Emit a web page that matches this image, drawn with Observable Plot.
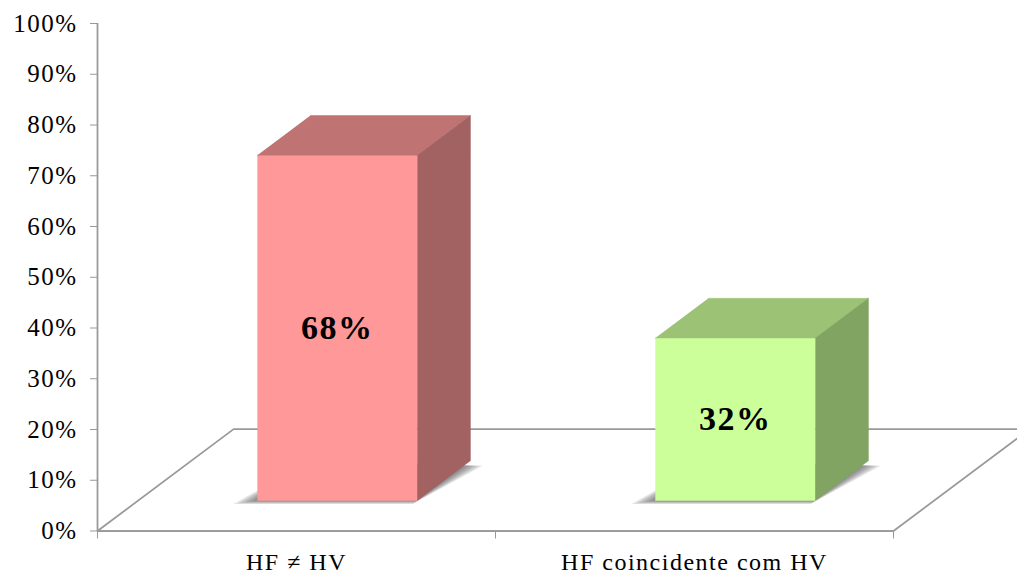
<!DOCTYPE html>
<html>
<head>
<meta charset="utf-8">
<script src="https://cdn.jsdelivr.net/npm/d3@7"></script>
<script src="https://cdn.jsdelivr.net/npm/@observablehq/plot@0.6"></script>
<style>
  html, body { margin: 0; padding: 0; background: #fff; overflow: hidden; }
  #chart svg { overflow: hidden; font-family: "Liberation Serif", "Times New Roman", serif !important; }
  #chart svg text { fill: #000; letter-spacing: 1.5px; font-family: "Liberation Serif", "Times New Roman", serif !important; }
</style>
</head>
<body>
<div id="chart"></div>
<script>
// ---- data ----
const categories = ["HF \u2260 HV", "HF coincidente com HV"];
const values = [0.68, 0.32];
const valueLabels = ["68%", "32%"];
const frontColors = ["#ff9999", "#ccff99"];
const topColors = ["#c07373", "#9cc275"];
const sideColors = ["#a26262", "#82a463"];
const yTicks = [0, 0.1, 0.2, 0.3, 0.4, 0.5, 0.6, 0.7, 0.8, 0.9, 1];
const xBoundaries = [0, 1, 2];

// ---- oblique 3D projection (data units per unit of depth) ----
const DX = 0.342, DY = 0.2008;
const D_FRONT = 0.3, D_BACK = 0.69;
const HALF = 0.201;
const P = (x, y, d) => ({x: x + d * DX, y: y + d * DY});

const floor = [P(0,0,0), P(2,0,0), P(2,0,1), P(0,0,1), P(0,0,0)];

const faceMarks = [];
const shadowPts = [];
categories.forEach((c, i) => {
  const cx = i + 0.5, v = values[i];
  const l = cx - HALF, r = cx + HALF;
  // soft shadow built from stacked translucent layers
  for (let k = 0; k < 6; k++) {
    const ext = 0.008 * (k + 1);
    const dd = 0.012 * (k + 1);
    [P(l - ext, 0, D_FRONT - dd * 0.5), P(r, 0, D_FRONT - dd * 0.5), P(r + ext, 0, D_BACK - 0.05), P(l, 0, D_BACK)]
      .forEach(p => shadowPts.push({...p, layer: i * 10 + k}));
  }
  const front = [P(l,0,D_FRONT), P(r,0,D_FRONT), P(r,v,D_FRONT), P(l,v,D_FRONT)];
  const side = [P(r,0,D_FRONT), P(r,0,D_BACK), P(r,v,D_BACK), P(r,v,D_FRONT)];
  const top = [P(l,v,D_FRONT), P(r,v,D_FRONT), P(r,v,D_BACK), P(l,v,D_BACK)];
  faceMarks.push(
    Plot.line(front, {x: "x", y: "y", fill: frontColors[i], stroke: frontColors[i], strokeWidth: 0.5}),
    Plot.line(top, {x: "x", y: "y", fill: topColors[i], stroke: topColors[i], strokeWidth: 0.5}),
    Plot.line(side, {x: "x", y: "y", fill: sideColors[i], stroke: sideColors[i], strokeWidth: 0.5})
  );
});

const labelPos = categories.map((c, i) => ({
  ...P(i + 0.5, values[i] / 2, D_FRONT), text: valueLabels[i]
}));

const chart = Plot.plot({
  width: 1017,
  height: 575,
  marginLeft: 97,
  marginRight: 124,
  marginTop: 23,
  marginBottom: 44.5,
  style: {fontSize: "25px", color: "#999", background: "#fff"},
  x: {type: "linear", domain: [0, 2], ticks: xBoundaries, tickFormat: () => "", tickSize: 8, label: null},
  y: {domain: [0, 1], ticks: yTicks, tickFormat: d3.format(".0%"), tickSize: 7, tickPadding: 13, label: null},
  marks: [
    Plot.line(floor, {x: "x", y: "y", stroke: "#999", strokeWidth: 1.75}),
    Plot.ruleX([0], {stroke: "#999", strokeWidth: 1.75}),
    Plot.ruleY([0], {stroke: "#999", strokeWidth: 1.75}),
    Plot.line(shadowPts, {x: "x", y: "y", z: "layer", fill: "#3a3a3a", fillOpacity: 0.13, stroke: "none"}),
    ...faceMarks,
    Plot.text(labelPos, {x: "x", y: "y", text: "text", fontSize: 34, fontWeight: "bold", fill: "#000"}),
    Plot.text(categories, {x: (d, i) => i + 0.5, y: () => 0, text: d => d, dy: 31, fontSize: 24, fill: "#000"})
  ]
});

document.getElementById("chart").appendChild(chart);
</script>
</body>
</html>
